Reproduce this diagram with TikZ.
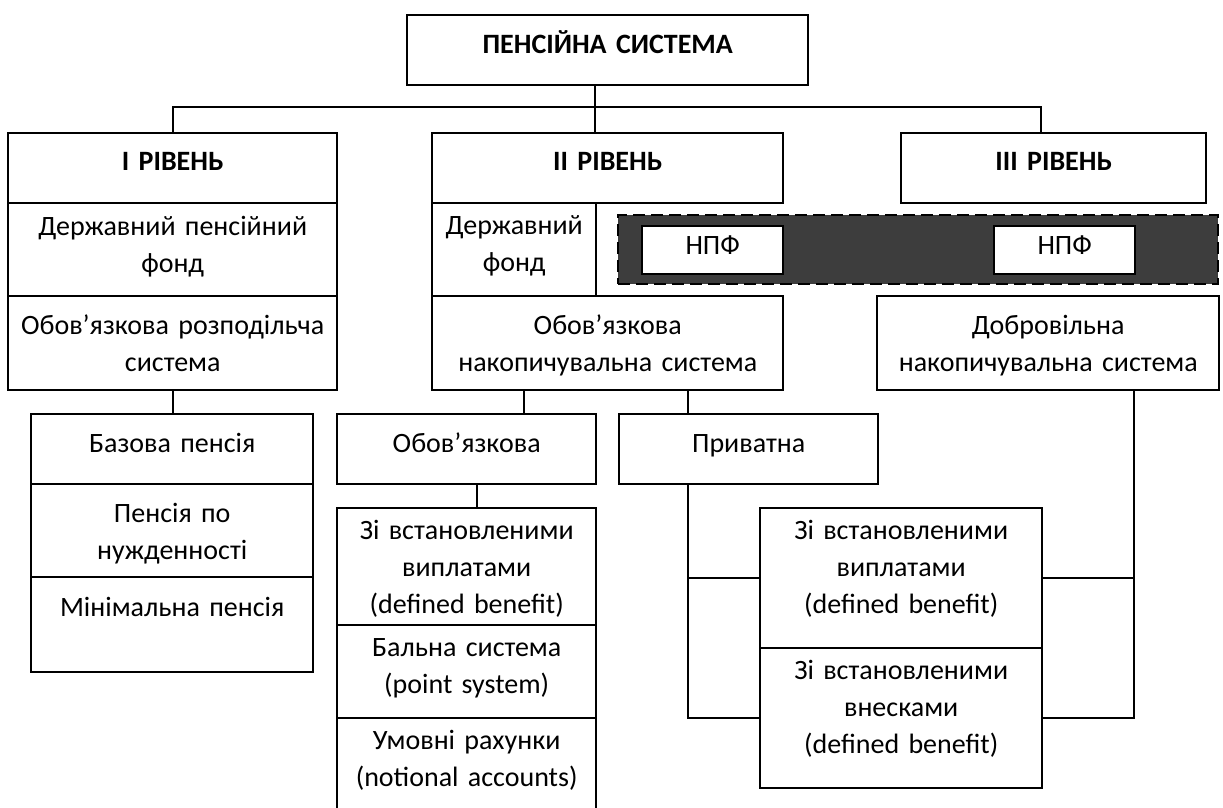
\documentclass[tikz,border=0pt]{standalone}
\usepackage{fontspec}
\setmainfont{Carlito}

\begin{document}
\begin{tikzpicture}
	[x=1pt,y=-1pt,
		cell/.style={draw,line width=2.4pt,inner sep=0pt,anchor=north west,align=center,
		font=\fontsize{28}{37}\selectfont},
		link/.style={line width=2pt}]
		\tikzstyle{npfband}=[draw,line width=2.4pt,dash pattern=on 12pt off 6pt,
			fill=black!76,inner sep=0pt,anchor=north west]

	\useasboundingbox (0,0) rectangle (1223,808);

	\node (pens) at (406,14) [cell,text width=401pt,text height=38pt,text depth=32pt] {\textbf{ПЕНСІЙНА СИСТЕМА}};

	\node (lev1) at (7,132) [cell,text width=329pt,text height=37pt,text depth=33pt] {\textbf{I РІВЕНЬ}};
	\node (lev2) at (431,132) [cell,text width=351pt,text height=37pt,text depth=33pt] {\textbf{II РІВЕНЬ}};
	\node (lev3) at (900,132) [cell,text width=305pt,text height=37pt,text depth=33pt] {\textbf{III РІВЕНЬ}};

	\node (fond1) at (7,202) [cell,text width=329pt,text height=32pt,text depth=61pt] {Державний пенсійний\\фонд};
	\node (fond2) at (431,202) [cell,text width=164pt,text height=31pt,text depth=62pt] {Державний\\фонд};
	\node (rozp) at (7,295) [cell,text width=329pt,text height=38pt,text depth=56pt] {Обов’язкова розподільча\\система};
	\node (nakop) at (431,295) [cell,text width=351pt,text height=38pt,text depth=56pt] {Обов’язкова\\накопичувальна система};
	\node (dobr) at (876,295) [cell,text width=342pt,text height=38pt,text depth=56pt] {Добровільна\\накопичувальна система};

	% недержавні пенсійні фонди
	\node (band) at (617,214) [npfband,minimum width=600pt,minimum height=69pt] {};
	\node (npf1) at (641,225) [cell,fill=white,text width=141pt,text height=28pt,text depth=20pt] {НПФ};
	\node (npf2) at (993,225) [cell,fill=white,text width=141pt,text height=28pt,text depth=20pt] {НПФ};

	\node (baz) at (30,413) [cell,text width=282pt,text height=38pt,text depth=32pt] {Базова пенсія};
	\node (nuzhd) at (30,483) [cell,text width=282pt,text height=38pt,text depth=55pt] {Пенсія по\\нужденності};
	\node (minim) at (30,576) [cell,text width=282pt,text height=39pt,text depth=56pt] {Мінімальна пенсія};

	\node (obov) at (336,413) [cell,text width=259pt,text height=38pt,text depth=32pt] {Обов’язкова};
	\node (pryv) at (618,413) [cell,text width=259pt,text height=38pt,text depth=32pt] {Приватна};

	\node (vypl1) at (336,507) [cell,text width=259pt,text height=31pt,text depth=86pt] {Зі встановленими\\виплатами\\(defined benefit)};
	\node (bal) at (336,624) [cell,text width=259pt,text height=31pt,text depth=62pt] {Бальна система\\(point system)};
	\node (umov) at (336,717) [cell,text width=259pt,text height=31pt,text depth=89pt] {Умовні рахунки\\(notional accounts)};

	\node (vypl2) at (759,507) [cell,text width=282pt,text height=31pt,text depth=109pt] {Зі встановленими\\виплатами\\(defined benefit)};
	\node (vnes) at (759,647) [cell,text width=282pt,text height=31pt,text depth=109pt] {Зі встановленими\\внесками\\(defined benefit)};

	\coordinate (hub) at (595,107);
	\coordinate (hub3) at (1041,107);
	\coordinate (c1) at (524,0);
	\coordinate (c2) at (688,0);
	\coordinate (c3) at (477,0);
	\coordinate (c4) at (1134,0);

	\draw[link] (pens.south -| hub) -- (hub |- lev2.north);
	\draw[link] (lev1.north) |- (hub3) -- (hub3 |- lev3.north);
	\draw[link] (rozp.south) -- (rozp.south |- baz.north);
	\draw[link] (nakop.south -| c1) -- (obov.north -| c1);
	\draw[link] (nakop.south -| c2) -- (pryv.north -| c2);
	\draw[link] (obov.south -| c3) -- (vypl1.north -| c3);
	\draw[link] (pryv.south -| c2) |- (vnes.west);
	\draw[link] (vypl2.west) -- (vypl2.west -| c2);
	\draw[link] (dobr.south -| c4) |- (vnes.east);
	\draw[link] (vypl2.east) -- (vypl2.east -| c4);
%	\draw[link] (nakop.south) -- (obov.north);

\end{tikzpicture}
\end{document}
